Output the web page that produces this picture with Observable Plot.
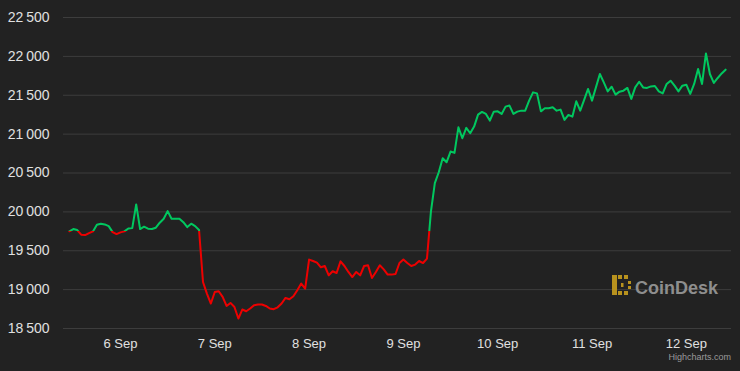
<!DOCTYPE html>
<html>
<head>
<meta charset="utf-8">
<script src="https://cdn.jsdelivr.net/npm/d3@7"></script>
<script src="https://cdn.jsdelivr.net/npm/@observablehq/plot@0.6"></script>
<style>
  html, body { margin: 0; padding: 0; background: #222222; }
  #wrap { position: relative; width: 740px; height: 371px; overflow: hidden; }
  #overlay { position: absolute; left: 0; top: 0; pointer-events: none; }
</style>
</head>
<body>
<div id="wrap"></div>
<script>
// ---- data (BTC price, hourly, from 5 Sep 2022 11:00 UTC) ----
const startTime = "2022-09-05T11:00:00Z";
const stepHours = 1;
const prices = [
  19750, 19779, 19766, 19707, 19702, 19727, 19749, 19835, 19848, 19839,
  19817, 19740, 19714, 19736, 19749, 19787, 19791, 20096, 19779, 19809,
  19784, 19779, 19796, 19861, 19912, 20010, 19912, 19912, 19912, 19868,
  19804, 19848, 19817, 19766,
  19098, 18949, 18821, 18970, 18979, 18906, 18790, 18829, 18777, 18628,
  18744, 18722, 18757, 18799, 18808, 18808, 18790, 18757, 18748, 18773,
  18821, 18893, 18876, 18915, 18992, 19078, 19013, 19386, 19368, 19347,
  19287, 19304, 19184, 19236, 19214, 19364, 19304, 19227, 19162, 19227,
  19184, 19304, 19313, 19150, 19227, 19313, 19261, 19193, 19193, 19201,
  19342, 19386, 19342, 19304, 19322, 19368, 19342, 19399,
  20000, 20369, 20510, 20690, 20639, 20776, 20759, 21088, 20947, 21080,
  21011, 21097, 21251, 21286, 21260, 21174, 21289, 21293, 21260, 21354,
  21367, 21260, 21289, 21302, 21302, 21431, 21537, 21524, 21293, 21332,
  21332, 21345, 21302, 21315, 21183, 21247, 21225, 21422, 21302,
  21440, 21581, 21431, 21601, 21773, 21666, 21550, 21610, 21508, 21546,
  21559, 21594, 21453, 21601, 21674, 21601, 21594, 21614, 21619, 21550,
  21524, 21645, 21687, 21623, 21550, 21623, 21636, 21517, 21645, 21838,
  21645, 22038, 21773, 21658, 21722, 21781, 21829
];
const zoneThreshold = prices[0];
const xTickDates = ["2022-09-06", "2022-09-07", "2022-09-08", "2022-09-09", "2022-09-10", "2022-09-11", "2022-09-12"];
const yTickValues = [18500, 19000, 19500, 20000, 20500, 21000, 21500, 22000, 22500];
const xDomain = ["2022-09-05T09:30:00Z", "2022-09-12T11:30:00Z"];
const yDomain = [18500, 22500];
const upColor = "#00c85f";
const downColor = "#ee0000";

// ---- table built from the arrays ----
const t0 = new Date(startTime).getTime();
const data = prices.map((v, i) => ({ t: new Date(t0 + i * stepHours * 3600000), v }));
const xTicks = xTickDates.map(d => new Date(d + "T00:00:00Z"));

const fmtY = v => {
  const th = Math.floor(v / 1000), r = String(v % 1000).padStart(3, "0");
  return th + "\u2009" + r;
};

const chart = Plot.plot({
  width: 740,
  height: 371,
  marginLeft: 63,
  marginRight: 9,
  marginTop: 17,
  marginBottom: 43,
  style: {
    background: "#222222",
    color: "#e0e0e0",
    fontFamily: "'Liberation Sans', Arial, Helvetica, sans-serif",
    fontSize: "13px"
  },
  x: {
    type: "utc",
    domain: xDomain.map(d => new Date(d)),
    ticks: xTicks,
    tickFormat: d3.utcFormat("%-d %b"),
    tickSize: 0,
    tickPadding: 10,
    label: null
  },
  y: {
    domain: yDomain,
    ticks: yTickValues,
    tickFormat: fmtY,
    tickSize: 0,
    tickPadding: 14,
    label: null
  },
  marks: [
    Plot.ruleY(yTickValues, { stroke: "#3d3d3d", strokeWidth: 1 }),
    Plot.line(data, { x: "t", y: "v", stroke: "url(#zone)", strokeWidth: 2, strokeLinejoin: "round", strokeLinecap: "round" })
  ]
});

// y labels slightly larger
chart.querySelectorAll('[aria-label^="y-axis"] text').forEach(t => t.setAttribute("font-size", "14px"));

// zone gradient: green above threshold, red below
const NS = "http://www.w3.org/2000/svg";
const ty = chart.scale("y").apply(zoneThreshold);
const defs = document.createElementNS(NS, "defs");
const grad = document.createElementNS(NS, "linearGradient");
grad.setAttribute("id", "zone");
grad.setAttribute("gradientUnits", "userSpaceOnUse");
grad.setAttribute("x1", "0"); grad.setAttribute("x2", "0");
grad.setAttribute("y1", "0"); grad.setAttribute("y2", "371");
const off = ty / 371;
[[0, upColor], [off, upColor], [off, downColor], [1, downColor]].forEach(([o, c]) => {
  const s = document.createElementNS(NS, "stop");
  s.setAttribute("offset", o);
  s.setAttribute("stop-color", c);
  grad.appendChild(s);
});
defs.appendChild(grad);
chart.insertBefore(defs, chart.firstChild);

const wrap = document.getElementById("wrap");
wrap.appendChild(chart);

// watermark + credit overlay
const ov = document.createElementNS(NS, "svg");
ov.setAttribute("id", "overlay");
ov.setAttribute("width", "740");
ov.setAttribute("height", "371");
ov.innerHTML = `
  <g fill="#b8921e">
    <rect x="612" y="275" width="5" height="20"/>
    <rect x="618" y="275" width="4" height="4"/>
    <rect x="624" y="275" width="4" height="4"/>
    <rect x="618" y="291" width="4" height="4"/>
    <rect x="624" y="291" width="4" height="4"/>
    <rect x="628" y="281" width="3" height="3"/>
    <rect x="628" y="286" width="3" height="3"/>
    <rect x="621" y="283" width="2.5" height="4"/>
  </g>
  <text x="635" y="293.5" font-family="'Liberation Sans', Arial, sans-serif" font-weight="bold" font-size="18" fill="#8e8e8e">CoinDesk</text>
  <text x="731" y="360" text-anchor="end" font-family="'Liberation Sans', Arial, sans-serif" font-size="9" fill="#9a9a9a">Highcharts.com</text>
`;
wrap.appendChild(ov);
</script>
</body>
</html>
